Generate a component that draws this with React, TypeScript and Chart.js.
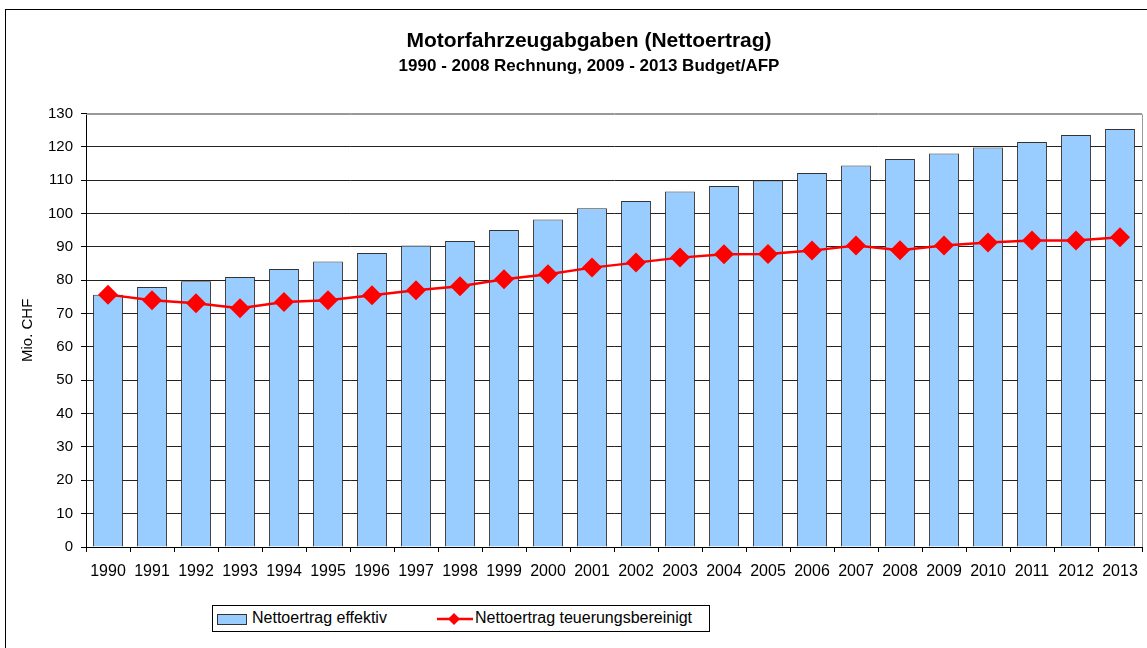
import React, { useEffect, useRef } from 'react';
import { Chart, registerables } from 'chart.js';
Chart.register(...registerables);

const years = ['1990', '1991', '1992', '1993', '1994', '1995', '1996', '1997', '1998', '1999', '2000', '2001', '2002', '2003', '2004', '2005', '2006', '2007', '2008', '2009', '2010', '2011', '2012', '2013'];
const effektiv = [75.7, 78.0, 79.7, 81.0, 83.4, 85.6, 88.2, 90.4, 91.8, 95.1, 98.2, 101.6, 103.8, 106.6, 108.3, 109.9, 112.2, 114.4, 116.4, 118.0, 119.8, 121.5, 123.6, 125.4];
const bereinigt = [75.7, 74.0, 73.1, 71.6, 73.5, 74.0, 75.5, 77.0, 78.2, 80.3, 81.8, 83.8, 85.3, 86.8, 87.8, 87.9, 88.9, 90.4, 89.0, 90.4, 91.3, 91.9, 91.9, 92.9];
const seriesLabels = ['Nettoertrag effektiv', 'Nettoertrag teuerungsbereinigt'];
const titleText = 'Motorfahrzeugabgaben (Nettoertrag)';
const subtitleText = '1990 - 2008 Rechnung, 2009 - 2013 Budget/AFP';
const yTitle = 'Mio. CHF';

const FONT = "'Liberation Sans', Arial, sans-serif";
const CANVAS_W = 1178;

const plotBorder = {
  id: 'plotBorder',
  beforeDatasetsDraw(chart: any) {
    const { ctx, chartArea } = chart;
    ctx.save();
    ctx.strokeStyle = '#999';
    ctx.lineWidth = 1;
    ctx.beginPath();
    ctx.moveTo(chartArea.left, Math.round(chartArea.top) + 0.5);
    ctx.lineTo(Math.round(chartArea.right) + 0.5, Math.round(chartArea.top) + 0.5);
    ctx.lineTo(Math.round(chartArea.right) + 0.5, chartArea.bottom);
    ctx.stroke();
    ctx.restore();
  },
};

export default function App() {
  const ref = useRef<HTMLCanvasElement>(null);
  useEffect(() => {
    if (!ref.current) return;
    const chart = new Chart(ref.current, {
      type: 'bar',
      data: {
        labels: years,
        datasets: [
          {
            type: 'line',
            label: seriesLabels[1],
            data: bereinigt,
            borderColor: '#FF0000',
            backgroundColor: '#FF0000',
            borderWidth: 2.5,
            pointStyle: 'rectRot',
            pointRadius: 10,
            pointBackgroundColor: '#FF0000',
            pointBorderColor: '#FF0000',
            pointBorderWidth: 0,
            tension: 0,
            order: 1,
          } as any,
          {
            type: 'bar',
            label: seriesLabels[0],
            data: effektiv,
            backgroundColor: '#99CCFF',
            borderColor: '#333333',
            borderWidth: 1,
            barPercentage: 0.68,
            categoryPercentage: 1,
            order: 2,
          },
        ],
      },
      options: {
        responsive: false,
        animation: false,
        devicePixelRatio: 1,
        layout: { padding: { left: 0, right: 0, top: 0, bottom: 61 } },
        plugins: {
          legend: { display: false },
          tooltip: { enabled: false },
          title: {
            display: true,
            text: titleText,
            color: '#000',
            font: { family: FONT, size: 21, weight: 'bold' },
            padding: { top: 29, bottom: 2 },
          },
          subtitle: {
            display: true,
            text: subtitleText,
            color: '#000',
            font: { family: FONT, size: 17, weight: 'bold' },
            padding: { top: 0, bottom: 37 },
          },
        },
        scales: {
          x: {
            offset: true,
            afterFit(scale: any) { scale.height = 40; },
            grid: { drawOnChartArea: false, drawTicks: true, tickLength: 5, color: '#000', offset: true },
            border: { display: true, color: '#000', width: 1 },
            ticks: { color: '#000', font: { family: FONT, size: 16 }, padding: 10, maxRotation: 0, autoSkip: false },
          },
          y: {
            min: 0,
            max: 130,
            afterFit(scale: any) { scale.width = 86; },
            grid: {
              color: (c: any) => (c.tick && c.tick.value === 130 ? '#999' : '#222'),
              tickColor: '#000',
              drawTicks: true,
              tickLength: 5,
            },
            border: { display: true, color: '#000', width: 1 },
            ticks: { stepSize: 10, color: '#000', font: { family: FONT, size: 15 }, padding: 8 },
            title: {
              display: true,
              text: yTitle,
              color: '#000',
              font: { family: FONT, size: 15 },
              padding: { top: 19, bottom: 0 },
            },
          },
          yRightSpace: {
            position: 'right',
            display: true,
            afterFit(scale: any) { scale.width = 36; },
            grid: { display: false, drawOnChartArea: false },
            border: { display: false },
            ticks: { display: false },
          },
        },
      },
      plugins: [plotBorder],
    });
    return () => chart.destroy();
  }, []);

  return (
    <div style={{ position: 'fixed', left: 0, top: 0, width: 1147, height: 648, overflow: 'hidden', background: '#fff' }}>
      <div style={{ position: 'absolute', left: 5, top: 9, width: 1170, height: 700, border: '1px solid #000' }} />
      <canvas ref={ref} width={CANVAS_W} height={648} style={{ position: 'absolute', left: 0, top: 0, display: 'block' }} />
      <div
        style={{
          position: 'absolute', left: 212, top: 605, width: 496, height: 25, border: '1px solid #000',
          fontFamily: FONT, fontSize: 16, color: '#000', background: '#fff',
        }}
      >
        <div style={{ position: 'absolute', left: 4, top: 8, width: 28, height: 9, background: '#99CCFF', border: '1px solid #333' }} />
        <div style={{ position: 'absolute', left: 39, top: 3, lineHeight: '18px', whiteSpace: 'nowrap' }}>{seriesLabels[0]}</div>
        <svg style={{ position: 'absolute', left: 224, top: 4 }} width={36} height={18}>
          <line x1={0} y1={9} x2={36} y2={9} stroke="#FF0000" strokeWidth={2.5} />
          <polygon points="17,3 23,9 17,15 11,9" fill="#FF0000" />
        </svg>
        <div style={{ position: 'absolute', left: 262, top: 3, lineHeight: '18px', whiteSpace: 'nowrap' }}>{seriesLabels[1]}</div>
      </div>
    </div>
  );
}
